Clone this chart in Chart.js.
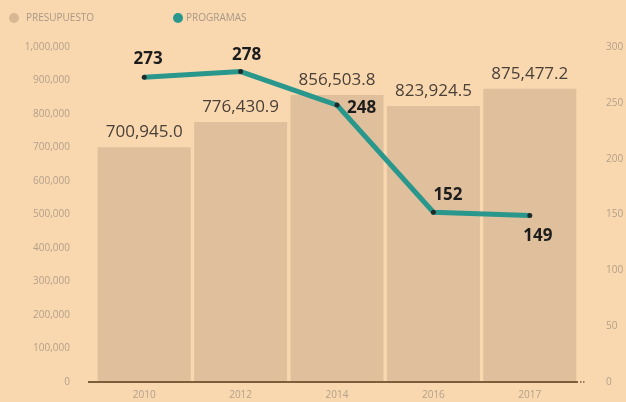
<!DOCTYPE html>
<html>
<head>
<meta charset="utf-8">
<script src="https://cdn.jsdelivr.net/npm/chart.js@4.4.1/dist/chart.umd.min.js"></script>
<style>
  html,body{margin:0;padding:0;background:#f9d8b0;}
  #wrap{width:626px;height:402px;position:relative;}
</style>
</head>
<body>
<div id="wrap"><canvas id="c" width="626" height="402"></canvas></div>
<script>
/* ====== Datos ====== */
const YEARS = ["2010","2012","2014","2016","2017"];
const PRESUPUESTO = [700945.0, 776430.9, 856503.8, 823924.5, 875477.2];
const PROGRAMAS = [273, 278, 248, 152, 149];
const LEFT_TICKS = [0,100000,200000,300000,400000,500000,600000,700000,800000,900000,1000000];
const RIGHT_TICKS = [0,50,100,150,200,250,300];

const BAR = '#e0c09c';
const TEAL = '#2a978c';
const TICK = '#b3a08a';

const fmt = v => v.toLocaleString('en-US',{minimumFractionDigits:1,maximumFractionDigits:1});

/* ====== Etiquetas + leyenda ====== */
const labelsPlugin = {
  id:'labels',
  afterDatasetsDraw(chart){
    const ctx = chart.ctx;
    ctx.save();
    // presupuesto
    ctx.font = '17px "Open Sans"';
    ctx.fillStyle = '#4a4038';
    ctx.textAlign = 'center';
    ctx.textBaseline = 'alphabetic';
    chart.getDatasetMeta(1).data.forEach((b,i)=>{
      ctx.fillText(fmt(PRESUPUESTO[i]), b.x, b.y-10);
    });
    // programas
    ctx.font = 'bold 17px "Open Sans"';
    ctx.fillStyle = '#1c1c1c';
    const off = [[4,-13,'center'],[6,-12,'center'],[10,8,'left'],[0,-12,'left'],[8,25,'center']];
    chart.getDatasetMeta(0).data.forEach((p,i)=>{
      const [dx,dy,al] = off[i];
      ctx.textAlign = al;
      ctx.fillText(String(PROGRAMAS[i]), p.x+dx, p.y+dy);
    });
    ctx.restore();
  },
  afterDraw(chart){
    const ctx = chart.ctx;
    const a = chart.chartArea;
    ctx.save();
    // línea base
    ctx.strokeStyle = '#7d5f3c';
    ctx.lineWidth = 2;
    ctx.beginPath(); ctx.moveTo(88, a.bottom); ctx.lineTo(578, a.bottom); ctx.stroke();
    ctx.fillStyle = '#9a7d5a';
    [580,583].forEach(x=>ctx.fillRect(x, a.bottom-1, 1.5, 2));
    // leyenda
    ctx.font = '10px "Open Sans"';
    ctx.textBaseline = 'middle';
    ctx.fillStyle = '#d8b894';
    ctx.beginPath(); ctx.arc(14,18,5,0,Math.PI*2); ctx.fill();
    ctx.fillStyle = TEAL;
    ctx.beginPath(); ctx.arc(178,18,5,0,Math.PI*2); ctx.fill();
    ctx.fillStyle = '#a89886';
    ctx.textAlign = 'left';
    ctx.fillText('PRESUPUESTO', 26, 18);
    ctx.fillText('PROGRAMAS', 186, 18);
    ctx.restore();
  }
};

new Chart(document.getElementById('c'), {
  data:{
    labels: YEARS,
    datasets:[
      {type:'line', label:'PROGRAMAS', data:PROGRAMAS, yAxisID:'y2',
       borderColor:TEAL, borderWidth:5, pointRadius:2.5, pointBackgroundColor:'#1d2b29',
       pointBorderWidth:0, tension:0, order:0},
      {type:'bar', label:'PRESUPUESTO', data:PRESUPUESTO, yAxisID:'y',
       backgroundColor:BAR, categoryPercentage:0.965, barPercentage:1, order:1}
    ]
  },
  options:{
    responsive:false, animation:false,
    layout:{padding:{top:47,left:0,right:0,bottom:0}},
    plugins:{legend:{display:false}, tooltip:{enabled:false}},
    scales:{
      x:{grid:{display:false, drawTicks:false}, border:{display:false},
         ticks:{color:TICK, font:{size:10, family:'"Open Sans"'}, padding:7},
         afterFit(s){ s.height = 20; }},
      y:{position:'left', min:0, max:1000000, grid:{display:false}, border:{display:false},
         afterBuildTicks(s){ s.ticks = LEFT_TICKS.map(v=>({value:v})); },
         ticks:{color:TICK, font:{size:10, family:'"Open Sans"'}, padding:18,
                callback:v=>v.toLocaleString('en-US')},
         afterFit(s){ s.width = 96; s.paddingBottom = 0; s.paddingTop = 0; }},
      y2:{position:'right', min:0, max:300, grid:{display:false}, border:{display:false},
         afterBuildTicks(s){ s.ticks = RIGHT_TICKS.map(v=>({value:v})); },
         ticks:{color:TICK, font:{size:10, family:'"Open Sans"'}, padding:20},
         afterFit(s){ s.width = 48; s.paddingBottom = 0; s.paddingTop = 0; }}
    }
  },
  plugins:[labelsPlugin]
});
</script>
</body>
</html>
